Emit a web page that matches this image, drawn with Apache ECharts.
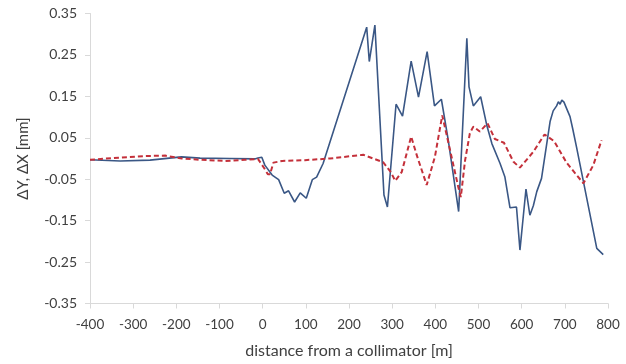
<!DOCTYPE html>
<html>
<head>
<meta charset="utf-8">
<script src="https://cdn.jsdelivr.net/npm/echarts@6/dist/echarts.min.js"></script>
<style>
html,body{margin:0;padding:0;background:#fff;}
#chart{width:626px;height:364px;}
</style>
</head>
<body>
<div id="chart"></div>
<script>
// Distance from collimator [m] and deviations [mm]
var dyX = [-400,-330,-261,-188,-145,-76,-18,-11,-2,5,22,37,50,60,74,87,101,115,125,140,241,247,260,281,289,309,324,344,361,381,398,414,430,454,473,478,488,505,519,531,550,561,573,588,596,604,610,619,627,635,646,666,673,681,685,689,693,698,704,712,718,727,774,789];
var dyY = [-0.003,-0.006,-0.004,0.004,0.001,0.000,-0.001,0.001,0.003,-0.016,-0.040,-0.051,-0.084,-0.078,-0.105,-0.083,-0.096,-0.051,-0.045,-0.012,0.317,0.234,0.322,-0.088,-0.117,0.131,0.102,0.235,0.148,0.258,0.127,0.143,0.044,-0.128,0.290,0.173,0.127,0.149,0.081,0.036,-0.012,-0.044,-0.119,-0.117,-0.221,-0.137,-0.074,-0.137,-0.114,-0.080,-0.048,0.090,0.115,0.127,0.137,0.131,0.141,0.136,0.121,0.101,0.073,0.028,-0.217,-0.232];
var dxX = [-400,-334,-273,-226,-188,-145,-87,-41,-11,4,12,17,25,45,98,156,233,279,297,307,322,344,357,380,399,416,429,453,459,469,480,488,503,521,538,559,581,596,627,653,675,704,743,766,785];
var dxY = [-0.003,0.002,0.006,0.007,0.000,-0.003,-0.006,-0.003,-0.001,-0.024,-0.038,-0.038,-0.010,-0.006,-0.004,0.000,0.009,-0.009,-0.033,-0.054,-0.033,0.053,0.008,-0.064,0.004,0.104,0.044,-0.068,-0.093,-0.004,0.061,0.077,0.065,0.085,0.047,0.038,-0.008,-0.022,0.016,0.058,0.042,-0.010,-0.060,-0.016,0.044];
var yTicks = [-0.35,-0.25,-0.15,-0.05,0.05,0.15,0.25,0.35];
var xName = 'distance from a collimator [m]';
var yName = '\u0394Y, \u0394X [mm]';

function pairs(xs, ys){ return xs.map(function(x,i){ return [x, ys[i]]; }); }

var FONT = 'Lato';
var chart = echarts.init(document.getElementById('chart'), null, {renderer:'canvas'});
chart.setOption({
  animation:false,
  grid:{left:90, right:18, top:13.5, bottom:60.5, containLabel:false},
  xAxis:{
    type:'value', min:-400, max:800, interval:100,
    name:xName, nameLocation:'middle', nameGap:39,
    nameTextStyle:{fontFamily:FONT, fontSize:16, color:'#404040'},
    axisLine:{onZero:false, lineStyle:{color:'#d9d9d9', width:1}},
    axisTick:{show:true, length:5, lineStyle:{color:'#d9d9d9'}},
    axisLabel:{margin:14, fontFamily:FONT, fontSize:13.5, color:'#404040'},
    splitLine:{show:false}
  },
  yAxis:{
    type:'value', min:-0.35, max:0.35,
    name:yName, nameLocation:'middle', nameGap:59, nameRotate:90,
    nameTextStyle:{fontFamily:FONT, fontSize:15, color:'#404040'},
    axisLine:{show:true, onZero:false, lineStyle:{color:'#d9d9d9', width:1}},
    axisTick:{show:true, length:5, customValues:yTicks, lineStyle:{color:'#d9d9d9'}},
    axisLabel:{margin:13, fontFamily:FONT, fontSize:14, color:'#404040', customValues:yTicks,
      formatter:function(v){ return (Math.round(v*100)/100).toFixed(2); }},
    splitLine:{show:false}
  },
  series:[
    {type:'line', data:pairs(dyX, dyY), showSymbol:false, symbol:'none',
     lineStyle:{color:'#3a5785', width:1.6}},
    {type:'line', data:pairs(dxX, dxY), showSymbol:false, symbol:'none',
     lineStyle:{color:'#c4303a', width:2, type:[5,3]}}
  ]
});
</script>
</body>
</html>
